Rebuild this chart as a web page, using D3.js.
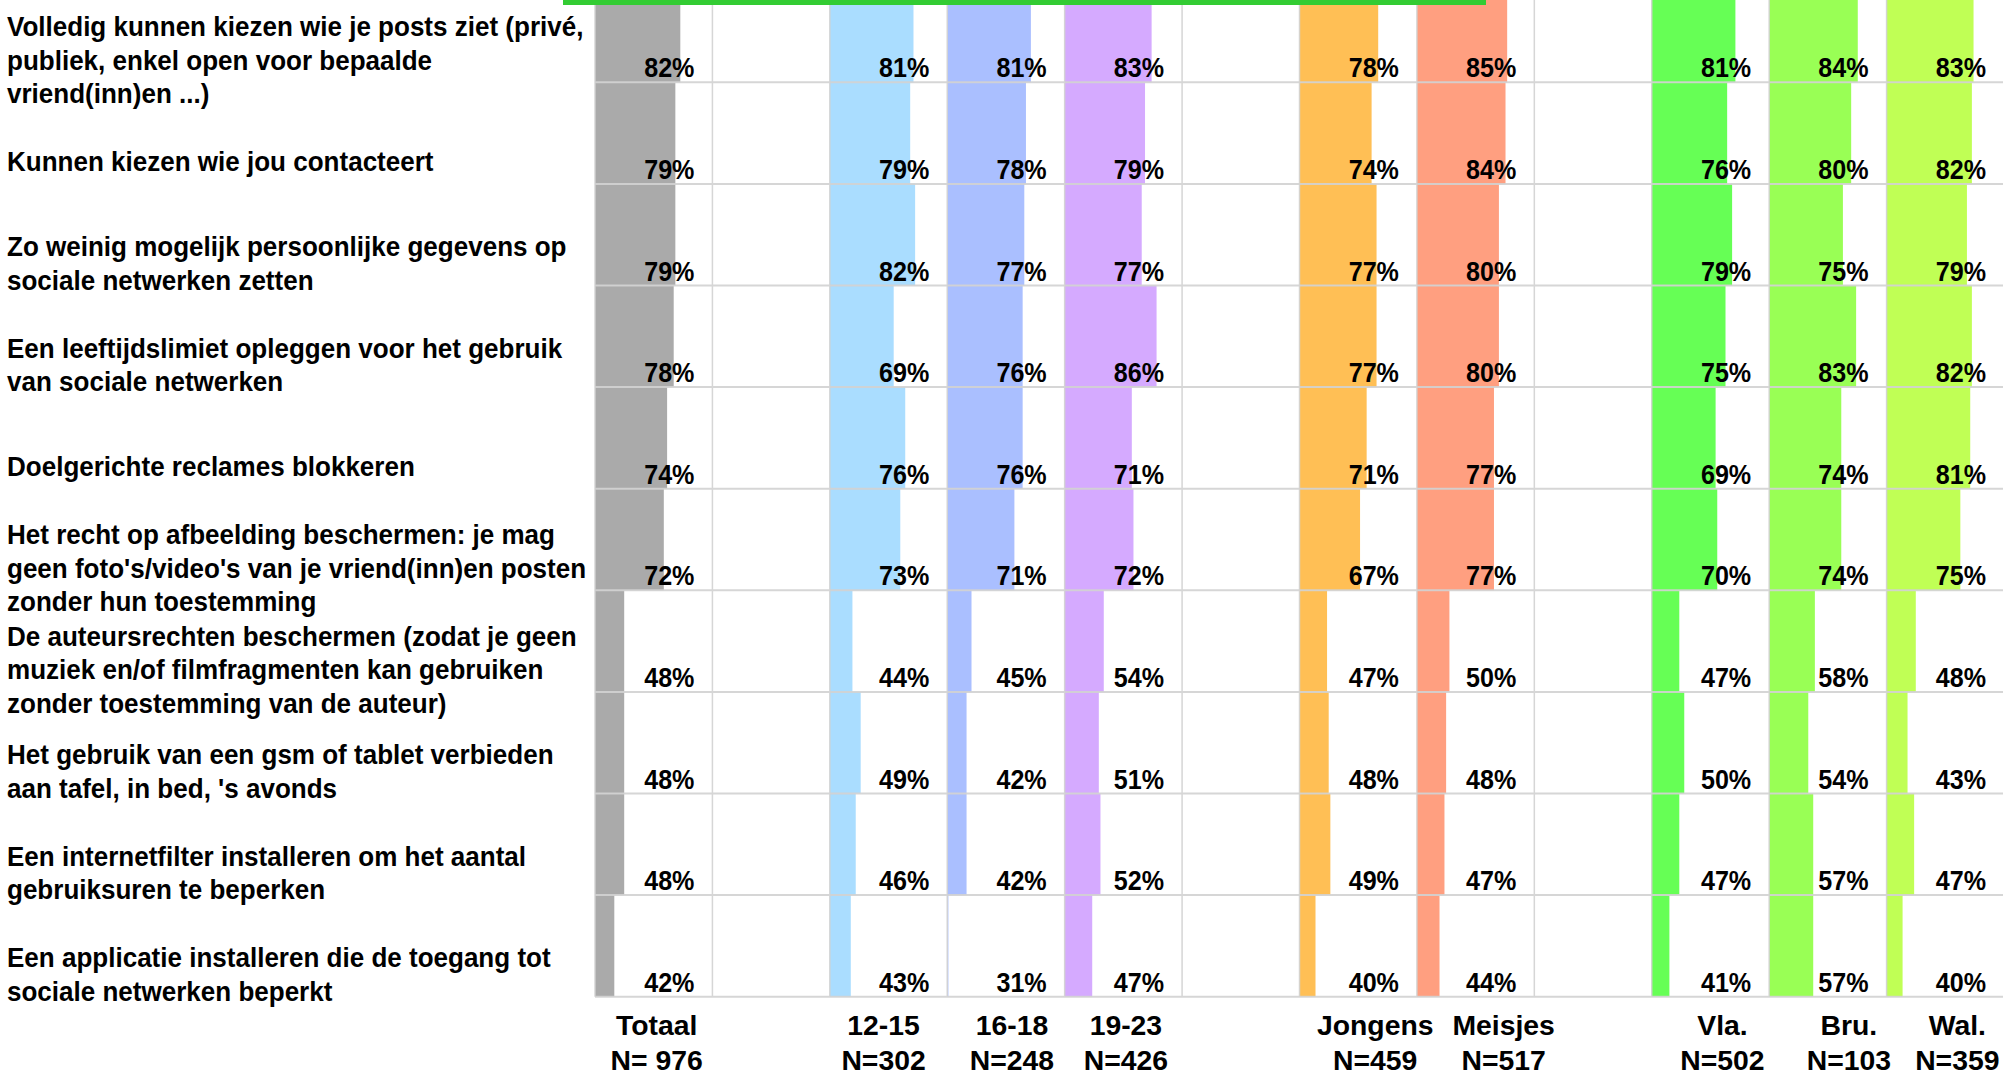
<!DOCTYPE html>
<html>
<head>
<meta charset="utf-8">
<script src="https://cdn.jsdelivr.net/npm/d3@7"></script>
<style>
html, body { margin: 0; padding: 0; background: #fff; overflow: hidden; }
svg { display: block; }
text { font-family: "Liberation Sans", Arial, sans-serif; font-weight: bold; fill: #000; }
</style>
</head>
<body>
<svg id="chart" width="2003" height="1076"></svg>
<script>
// ---------- DATA ----------
const categories = [
  ["Volledig kunnen kiezen wie je posts ziet (privé,", "publiek, enkel open voor bepaalde", "vriend(inn)en ...)"],
  ["Kunnen kiezen wie jou contacteert"],
  ["Zo weinig mogelijk persoonlijke gegevens op", "sociale netwerken zetten"],
  ["Een leeftijdslimiet opleggen voor het gebruik", "van sociale netwerken"],
  ["Doelgerichte reclames blokkeren"],
  ["Het recht op afbeelding beschermen: je mag", "geen foto's/video's van je vriend(inn)en posten", "zonder hun toestemming"],
  ["De auteursrechten beschermen (zodat je geen", "muziek en/of filmfragmenten kan gebruiken", "zonder toestemming van de auteur)"],
  ["Het gebruik van een gsm of tablet verbieden", "aan tafel, in bed, 's avonds"],
  ["Een internetfilter installeren om het aantal", "gebruiksuren te beperken"],
  ["Een applicatie installeren die de toegang tot", "sociale netwerken beperkt"]
];

const groupNames = ["Totaal", "12-15", "16-18", "19-23", "Jongens", "Meisjes", "Vla.", "Bru.", "Wal."];
const groupN     = ["N= 976", "N=302", "N=248", "N=426", "N=459", "N=517", "N=502", "N=103", "N=359"];

const totaal   = [82, 79, 79, 78, 74, 72, 48, 48, 48, 42];
const age1215  = [81, 79, 82, 69, 76, 73, 44, 49, 46, 43];
const age1618  = [81, 78, 77, 76, 76, 71, 45, 42, 42, 31];
const age1923  = [83, 79, 77, 86, 71, 72, 54, 51, 52, 47];
const jongens  = [78, 74, 77, 77, 71, 67, 47, 48, 49, 40];
const meisjes  = [85, 84, 80, 80, 77, 77, 50, 48, 47, 44];
const vla      = [81, 76, 79, 75, 69, 70, 47, 50, 47, 41];
const bru      = [84, 80, 75, 83, 74, 74, 58, 54, 57, 57];
const wal      = [83, 82, 79, 82, 81, 75, 48, 43, 47, 40];

// column slots (empty slots separate the groups)
const slots = ["Totaal", "_gap1", "12-15", "16-18", "19-23", "_gap2", "Jongens", "Meisjes", "_gap3", "Vla.", "Bru.", "Wal."];

// ---------- STYLE / LAYOUT ----------
const colors = {
  "Totaal": "#aaaaaa", "12-15": "#aaddff", "16-18": "#aabfff", "19-23": "#d5aaff",
  "Jongens": "#ffbf55", "Meisjes": "#ff9f80", "Vla.": "#66ff55", "Bru.": "#99ff55", "Wal.": "#c0ff55"
};
const headerNudge = [3, -5, 6, 2.5, 17, 28, 12, 21, 12];
const seriesValues = [totaal, age1215, age1618, age1923, jongens, meisjes, vla, bru, wal];

const gridLeft = 595, gridRight = 2004;
const gridTop = -19.3, gridBottom = 996.7;
const textScaleX = 0.93;
const headScaleX = 1.05;

const svg = d3.select("#chart");

const xSlot = d3.scaleBand().domain(slots).range([gridLeft, gridRight]).padding(0);
const yRow = d3.scaleBand().domain(d3.range(categories.length)).range([gridTop, gridBottom]).padding(0);
const barW = d3.scaleLinear().domain([30.3, 100]).range([0, 115]).clamp(true);

// long table built from the arrays
const cells = [];
groupNames.forEach((g, gi) => {
  seriesValues[gi].forEach((v, ri) => cells.push({ group: g, row: ri, value: v }));
});

// bars
svg.append("g").selectAll("rect").data(cells).join("rect")
  .attr("x", d => xSlot(d.group))
  .attr("y", d => yRow(d.row))
  .attr("width", d => barW(d.value))
  .attr("height", yRow.bandwidth())
  .attr("fill", d => colors[d.group]);

// gridlines on top
const grid = svg.append("g").attr("stroke", "#d2d2d2").attr("stroke-width", 2).attr("opacity", 0.9);
const hLines = d3.range(categories.length + 1).map(i => gridTop + i * yRow.step());
grid.selectAll("line.h").data(hLines.slice(1)).join("line")
  .attr("class", "h")
  .attr("x1", gridLeft).attr("x2", gridRight)
  .attr("y1", d => d).attr("y2", d => d);
const vLines = slots.map(s => xSlot(s)).concat([gridRight]);
grid.selectAll("line.v").data(vLines).join("line")
  .attr("class", "v")
  .attr("x1", d => d).attr("x2", d => d)
  .attr("y1", 0).attr("y2", gridBottom)
  .attr("stroke-width", 1.5);

// percentage labels
svg.append("g").selectAll("text").data(cells).join("text")
  .attr("transform", d => `translate(${xSlot(d.group) + xSlot.bandwidth() - 18},${yRow(d.row) + yRow.bandwidth() - 5}) scale(${textScaleX},1)`)
  .attr("text-anchor", "end")
  .style("font-size", "27px")
  .text(d => d.value + "%");

// category labels
const lineH = 33.4;
const labelG = svg.append("g");
categories.forEach((lines, ri) => {
  const center = yRow(ri) + 79;
  lines.forEach((ln, li) => {
    const yb = center + (li - (lines.length - 1) / 2) * lineH + 10;
    labelG.append("text")
      .attr("transform", `translate(7,${yb}) scale(${textScaleX},1)`)
      .style("font-size", "28px")
      .text(ln);
  });
});

// column headers
const headG = svg.append("g");
groupNames.forEach((g, gi) => {
  const cx = xSlot(g) + xSlot.bandwidth() / 2 + headerNudge[gi];
  headG.append("text")
    .attr("transform", `translate(${cx},1035) scale(${headScaleX},1)`)
    .attr("text-anchor", "middle").style("font-size", "27px").text(g);
  headG.append("text")
    .attr("transform", `translate(${cx},1069.5) scale(${headScaleX},1)`)
    .attr("text-anchor", "middle").style("font-size", "27px").text(groupN[gi]);
});

// green bar at the top edge
svg.append("rect")
  .attr("x", 563).attr("y", 0)
  .attr("width", 1486 - 563).attr("height", 5)
  .attr("fill", "#33cc33");
</script>
</body>
</html>
